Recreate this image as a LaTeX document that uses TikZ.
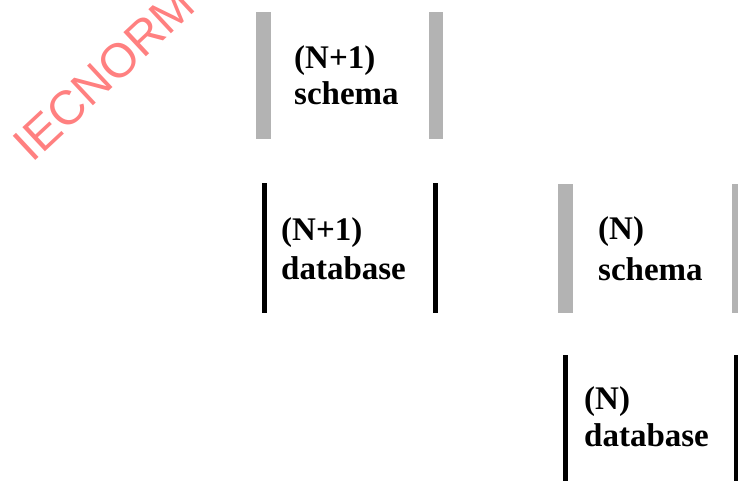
\documentclass[tikz,border=0pt]{standalone}
\usepackage{fontspec}
\setmainfont{Liberation Serif}
\newfontfamily\wmfont{Liberation Sans}
\definecolor{wmred}{RGB}{255,128,128}
\definecolor{bargray}{RGB}{179,179,179}
\tikzset{
  graybar/.style={fill=bargray},
  blackbar/.style={fill=black},
  lbl/.style={anchor=base west, inner sep=0pt, font=\fontsize{33}{36}\selectfont\bfseries},
  wm/.style={text=wmred, font=\wmfont\fontsize{48}{48}\selectfont, inner sep=0pt, rotate=43}
}
\newcommand{\twolines}[3]{\begin{tabular}[t]{@{}l@{}}#1\\[#3]#2\end{tabular}}
\begin{document}
\begin{tikzpicture}[x=1pt,y=-1pt]
\useasboundingbox (0,0) rectangle (738,481);
\clip (0,0) rectangle (738,481);
\node[wm] (wmark) at (104,74) {IECNORM};
% (N+1) schema
\fill[graybar] (256,12) rectangle (271,139);
\fill[graybar] (429,12) rectangle (443,139);
\node[lbl] (ns) at (294,69) {\twolines{(N+1)}{schema}{0pt}};
% (N+1) database
\fill[blackbar] (262,183) rectangle (266.5,313);
\fill[blackbar] (433,183) rectangle (437.5,313);
\node[lbl] (nd) at (281,240) {\twolines{(N+1)}{database}{3pt}};
% (N) schema
\fill[graybar] (558,184) rectangle (573,313);
\fill[graybar] (732,184) rectangle (747,313);
\node[lbl] (ms) at (598,239) {\twolines{(N)}{schema}{5pt}};
% (N) database
\fill[blackbar] (563,355) rectangle (567.5,490);
\fill[blackbar] (734,355) rectangle (738.5,490);
\node[lbl] (md) at (584,409) {\twolines{(N)}{database}{1pt}};
\end{tikzpicture}
\end{document}
